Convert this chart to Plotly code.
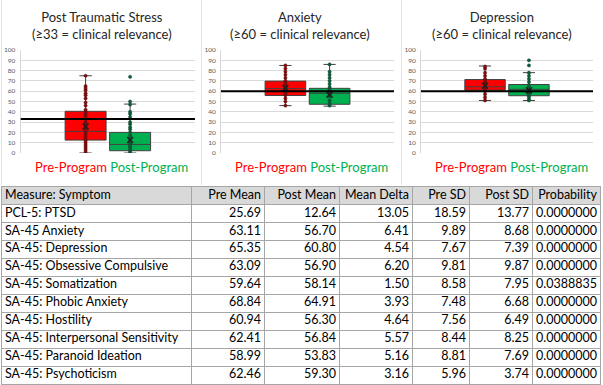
import plotly.graph_objects as go

# ---------------- data ----------------
groups = ["Pre-Program", "Post-Program"]
panel_titles = ["Post Traumatic Stress<br>(≥33 = clinical relevance)",
                "Anxiety<br>(≥60 = clinical relevance)",
                "Depression<br>(≥60 = clinical relevance)"]
thresholds = [33, 60, 60]

# box statistics per panel: [pre, post]
q1s = [[12.5, 2.2], [55.8, 47.3], [61.0, 55.6]]
medians = [[21.0, 8.3], [62.5, 58.0], [64.3, 61.8]]
q3s = [[40.5, 20.0], [69.8, 62.8], [71.3, 66.5]]
low_whiskers = [[0, 0], [46, 45.5], [51, 51]]
high_whiskers = [[75, 47.5], [85, 86], [84.5, 78]]
means = [[25.69, 12.64], [63.11, 56.70], [65.35, 60.80]]

ptsd_pre_pts = [0, 2, 4, 6, 8, 10, 12, 14, 16, 18, 20, 22, 24, 26, 28, 30, 33, 36, 38, 40,
                42, 46, 49, 53, 56, 58, 61, 63, 65, 75]
ptsd_post_pts = [0, 2, 3, 5, 7, 8, 10, 12, 15, 17, 20, 23, 25, 28, 30, 35, 38, 40, 47, 50, 74]
anx_pre_pts = [46, 50, 53, 56, 58, 60, 62, 63, 64, 66, 68, 70, 73, 76, 79, 82, 85]
anx_post_pts = [46, 48, 51, 55, 57, 59, 60, 62, 64, 67, 70, 73, 76, 79, 86]
dep_pre_pts = [51, 54, 57, 60, 62, 64, 66, 68, 70, 72, 75, 78, 82, 84]
dep_post_pts = [51, 53, 55, 57, 59, 60, 61, 62, 64, 66, 69, 72, 75, 78, 85, 90]
points = [[ptsd_pre_pts, ptsd_post_pts], [anx_pre_pts, anx_post_pts], [dep_pre_pts, dep_post_pts]]

# table
measures = ["PCL-5: PTSD", "SA-45 Anxiety", "SA-45: Depression", "SA-45: Obsessive Compulsive",
            "SA-45: Somatization", "SA-45: Phobic Anxiety", "SA-45: Hostility",
            "SA-45: Interpersonal Sensitivity", "SA-45: Paranoid Ideation", "SA-45: Psychoticism"]
pre_mean = [25.69, 63.11, 65.35, 63.09, 59.64, 68.84, 60.94, 62.41, 58.99, 62.46]
post_mean = [12.64, 56.70, 60.80, 56.90, 58.14, 64.91, 56.30, 56.84, 53.83, 59.30]
mean_delta = [13.05, 6.41, 4.54, 6.20, 1.50, 3.93, 4.64, 5.57, 5.16, 3.16]
pre_sd = [18.59, 9.89, 7.67, 9.81, 8.58, 7.48, 7.56, 8.44, 8.81, 5.96]
post_sd = [13.77, 8.68, 7.39, 9.87, 7.95, 6.68, 6.49, 8.25, 7.69, 3.74]
probability = [0.0, 0.0, 0.0, 0.0, 0.0388835, 0.0, 0.0, 0.0, 0.0, 0.0]
headers = ["Measure: Symptom", "Pre Mean", "Post Mean", "Mean Delta", "Pre SD", "Post SD", "Probability"]

# ---------------- styling ----------------
W, H = 603, 385
FONT = "Lato"
fills = ["#FF0000", "#00B050"]
dot_colors = ["#A00000", "#00663A"]
dot_edges = ["#3a1a1a", "#1a3a2a"]
box_line = "#404040"

def px_x(p):
    return p / W

def px_y(p):
    return 1 - p / H

x_domains = [[px_x(20.7), px_x(195)], [px_x(221), px_x(394)], [px_x(421), px_x(593)]]
y_domain = [px_y(153), px_y(50)]
title_cx = [102, 300, 502]
legend_cx = [111, 311, 511]

fig = go.Figure()
annotations = []
shapes = []

for i in range(3):
    sfx = "" if i == 0 else str(i + 1)
    xa, ya = "x" + sfx, "y" + sfx
    for g in range(2):
        fig.add_trace(go.Box(
            x=[groups[g]], q1=[q1s[i][g]], median=[medians[i][g]], q3=[q3s[i][g]],
            lowerfence=[low_whiskers[i][g]], upperfence=[high_whiskers[i][g]],
            fillcolor=fills[g], line=dict(color=box_line, width=1), width=0.92,
            whiskerwidth=0.3, boxpoints=False, showlegend=False, hoverinfo="skip",
            xaxis=xa, yaxis=ya))
        fig.add_trace(go.Scatter(
            x=[groups[g]] * len(points[i][g]), y=points[i][g], mode="markers",
            marker=dict(size=3.2, color=dot_colors[g], line=dict(width=0.5, color=dot_edges[g])),
            showlegend=False, hoverinfo="skip", xaxis=xa, yaxis=ya))
        fig.add_trace(go.Scatter(
            x=[groups[g]], y=[means[i][g]], mode="markers",
            marker=dict(symbol="x-thin", size=6, line=dict(width=1.5, color="#202020")),
            showlegend=False, hoverinfo="skip", xaxis=xa, yaxis=ya))
    fig.update_layout(**{
        "xaxis" + sfx: dict(domain=x_domains[i], anchor=ya, type="category",
                            categoryorder="array", categoryarray=groups,
                            range=[-1.458, 2.458], showticklabels=False, showgrid=False,
                            zeroline=False, showline=False, ticks=""),
        "yaxis" + sfx: dict(domain=y_domain, anchor=xa, range=[0, 100], dtick=10,
                            showgrid=True, gridcolor="#D9D9D9", gridwidth=1,
                            zeroline=False, showline=True, linecolor="#D9D9D9", linewidth=1,
                            tickfont=dict(family=FONT, size=6.5, color="#595959"),
                            ticks="", ticklabelstandoff=3, automargin=False),
    })
    shapes.append(dict(type="line", xref=xa + " domain", x0=0, x1=1, yref=ya,
                       y0=thresholds[i], y1=thresholds[i], line=dict(color="#000000", width=2)))
    annotations.append(dict(text=panel_titles[i], x=px_x(title_cx[i]), y=px_y(25), xref="paper", yref="paper",
                            showarrow=False, xanchor="center", yanchor="middle",
                            font=dict(family=FONT, size=13, color="#262626")))
    annotations.append(dict(text='<span style="color:#FF0000">Pre-Program</span> <span style="color:#00B050">Post-Program</span>',
                            x=px_x(legend_cx[i]), y=px_y(166.5), xref="paper", yref="paper",
                            showarrow=False, xanchor="center", yanchor="middle",
                            font=dict(family=FONT, size=13)))

# faint spreadsheet gridlines between the charts
for xv in [1.5, 201.5, 401.5]:
    shapes.append(dict(type="line", xref="paper", yref="paper", x0=px_x(xv), x1=px_x(xv),
                       y0=px_y(185), y1=1, line=dict(color="#E3E3E3", width=1), layer="below"))

# ---------------- table built on its own axes ----------------
col_widths = [189, 73, 75, 73, 57, 63, 68]
CELL_PAD = 3
edges = [0]
for w in col_widths:
    edges.append(edges[-1] + w)
n_rows = len(measures) + 1
columns = [measures,
           [f"{v:.2f}" for v in pre_mean],
           [f"{v:.2f}" for v in post_mean],
           [f"{v:.2f}" for v in mean_delta],
           [f"{v:.2f}" for v in pre_sd],
           [f"{v:.2f}" for v in post_sd],
           [f"{v:.7f}" for v in probability]]
TFONT = dict(family=FONT, size=12.5, color="#000000")
for c in range(len(headers)):
    left = (c == 0)
    xs = edges[c] + CELL_PAD if left else edges[c + 1] - CELL_PAD
    texts = [headers[c]] + columns[c]
    fig.add_trace(go.Scatter(
        x=[xs] * n_rows, y=[r + 0.5 for r in range(n_rows)], text=texts, mode="text",
        textposition="middle right" if left else "middle left", textfont=TFONT,
        showlegend=False, hoverinfo="skip", cliponaxis=False, xaxis="x4", yaxis="y4"))

fig.update_layout(
    xaxis4=dict(domain=[px_x(2), px_x(600)], anchor="y4", range=[0, edges[-1]],
                tickvals=edges, showticklabels=False, showgrid=True, gridcolor="#A6A6A6",
                gridwidth=1, zeroline=False, showline=True, mirror=True, linecolor="#A6A6A6",
                ticks=""),
    yaxis4=dict(domain=[px_y(384), px_y(186.5)], anchor="x4", range=[n_rows, 0],
                tickvals=list(range(n_rows + 1)), showticklabels=False, showgrid=True,
                gridcolor="#A6A6A6", gridwidth=1, zeroline=False, showline=True, mirror=True,
                linecolor="#A6A6A6", ticks=""),
)
shapes.append(dict(type="rect", xref="x4", yref="y4", x0=edges[0], x1=edges[-1], y0=0, y1=1,
                   fillcolor="#D9D9D9", line=dict(width=0), layer="below"))

fig.update_layout(width=W, height=H, margin=dict(l=0, r=0, t=0, b=0, pad=0),
                  paper_bgcolor="white", plot_bgcolor="rgba(0,0,0,0)",
                  annotations=annotations, shapes=shapes, showlegend=False)

fig.write_html("out.html", config={"displayModeBar": False},
               post_script="document.body.style.margin='0';")
